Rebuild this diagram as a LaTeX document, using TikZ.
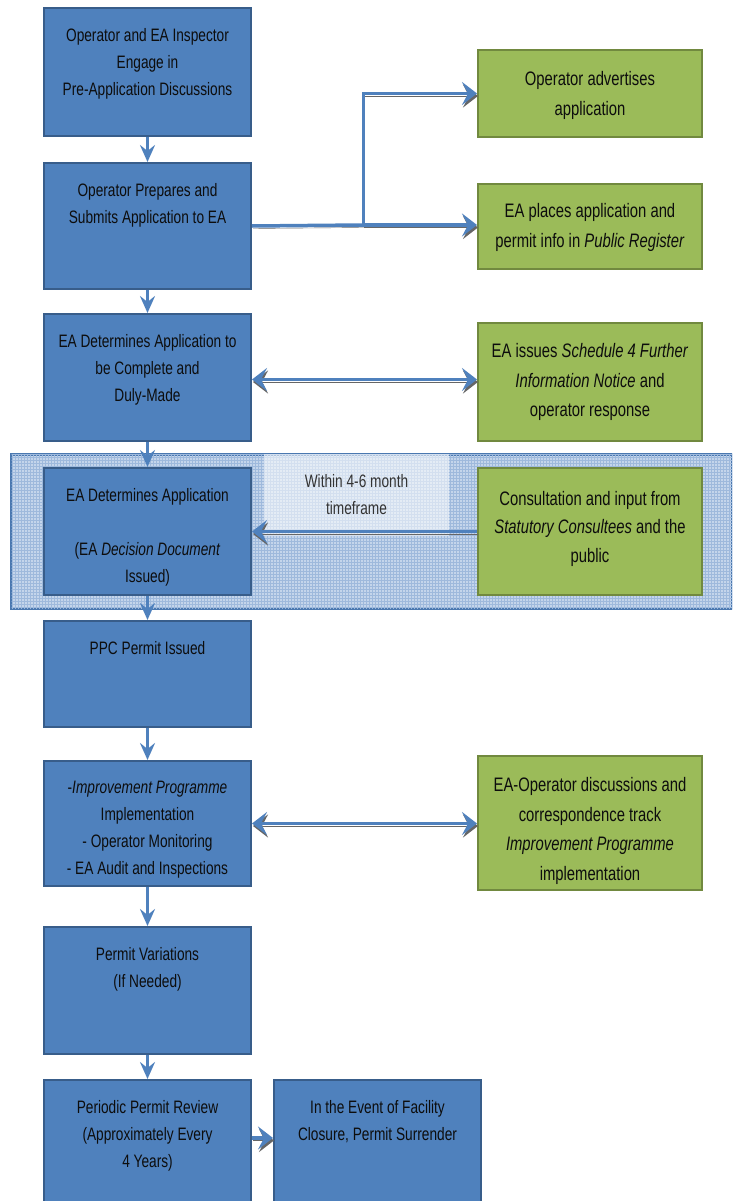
\documentclass[tikz,border=0pt]{standalone}
\usepackage{fontspec}
\setmainfont{Liberation Sans}[FakeStretch=0.76]
\usetikzlibrary{arrows.meta,patterns}
\definecolor{bfill}{HTML}{4F81BD}
\definecolor{bline}{HTML}{385D8A}
\definecolor{gfill}{HTML}{9BBB59}
\definecolor{gline}{HTML}{71893F}
\definecolor{arr}{HTML}{4F81BD}
\definecolor{bandfill}{HTML}{C4D5EB}
\definecolor{bandgrid}{HTML}{9EB9DC}
\definecolor{bandline}{HTML}{4A78B0}
\definecolor{txt}{HTML}{0D0D0D}
\tikzset{
  bfont/.style={font=\fontsize{18}{27}\selectfont},
  gfont/.style={font=\fontsize{19.5}{29.5}\selectfont},
  bbox/.style={draw=bline, line width=2pt, fill=bfill, anchor=north west,
    minimum width=207pt, inner sep=0pt},
  btext/.style={anchor=north, yshift=-21pt, align=center, inner sep=0pt, bfont, text=txt},
  gbox/.style={draw=gline, line width=2pt, fill=gfill, anchor=north west,
    minimum width=224pt, inner sep=0pt, align=center, gfont, text=txt},
  gtext/.style={anchor=center, align=center, inner sep=0pt, gfont, text=txt},
  shadowed/.style={preaction={draw=black!60, transform canvas={shift={(1pt,-2.5pt)}}}},
  varrow/.style={draw=arr, line width=3pt, -{Stealth[length=17pt,width=15pt,inset=6pt]}},
  hline/.style={draw=arr, line width=3.5pt, shadowed},
  harrow/.style={draw=arr, line width=3.5pt, shadowed, -{Stealth[length=15pt,width=23pt,inset=6pt]}},
  hdarrow/.style={draw=arr, line width=3.5pt, shadowed,
    {Stealth[length=15pt,width=23pt,inset=6pt]}-{Stealth[length=15pt,width=23pt,inset=6pt]}},
}
\begin{document}
\begin{tikzpicture}[x=1pt,y=-1pt]
\useasboundingbox (0,0) rectangle (732,1201);
\clip (0,0) rectangle (732,1201);
\fill[white] (0,0) rectangle (732,1201);

% highlighted band
\node[draw=bandline, line width=3pt, fill=bandfill,
      postaction={pattern=grid, pattern color=bandgrid},
      anchor=north west, minimum width=721pt, minimum height=154pt, inner sep=0pt]
      (band) at (10,453) {};
\node[fill=white, fill opacity=0.55, text opacity=1, text=black!80,
      minimum width=185pt, minimum height=82pt, align=center, bfont, inner sep=0pt]
      (tf) at (356.5,495) {Within 4-6 month\\timeframe};

% left column
\node[bbox, minimum height=128pt,
  label={[btext]north:{Operator and EA Inspector\\Engage in\\Pre-Application Discussions}}]
  (b1) at (43,7) {};
\node[bbox, minimum height=126pt,
  label={[btext]north:{Operator Prepares and\\Submits Application to EA}}]
  (b2) at (43,162) {};
\node[bbox, minimum height=127pt,
  label={[btext]north:{EA Determines Application to\\be Complete and\\Duly-Made}}]
  (b3) at (43,313) {};
\node[bbox, minimum height=127pt,
  label={[btext]north:{EA Determines Application\\~\\(EA \textit{Decision Document}\\Issued)}}]
  (b4) at (43,467) {};
\node[bbox, minimum height=106pt,
  label={[btext]north:{PPC Permit Issued}}]
  (b5) at (43,620) {};
\node[bbox, minimum height=125pt,
  label={[btext]north:{-\textit{Improvement Programme}\\Implementation\\- Operator Monitoring\\- EA Audit and Inspections}}]
  (b6) at (43,760) {};
\node[bbox, minimum height=127pt,
  label={[btext]north:{Permit Variations\\(If Needed)}}]
  (b7) at (43,926) {};
\node[bbox, minimum height=140pt,
  label={[btext]north:{Periodic Permit Review\\(Approximately Every\\4 Years)}}]
  (b8) at (43,1079) {};
\node[bbox, minimum height=140pt,
  label={[btext]north:{In the Event of Facility\\Closure, Permit Surrender}}]
  (b9) at (273,1079) {};

% right column
\node[gbox, minimum height=87pt,
  label={[gtext, yshift=-2pt]center:{Operator advertises\\application}}] (g1) at (477,49) {};
\node[gbox, minimum height=85pt,
  label={[gtext, yshift=-1pt]center:{EA places application and\\permit info in \textit{Public Register}}}] (g2) at (477,183) {};
\node[gbox, minimum height=118pt,
  label={[gtext]center:{EA issues \textit{Schedule 4 Further}\\\textit{Information Notice} and\\operator response}}] (g3) at (477,322) {};
\node[gbox, minimum height=127pt,
  label={[gtext, yshift=3pt, font=\fontsize{19.5}{28.5}\selectfont]center:{Consultation and input from\\\textit{Statutory Consultees} and the\\public}}] (g4) at (477,467) {};
\node[gbox, minimum height=134pt,
  label={[gtext, yshift=-8pt]center:{EA-Operator discussions and\\correspondence track\\\textit{Improvement Programme}\\implementation}}] (g5) at (477,755) {};

% vertical flow
\draw[varrow] (b1.south) -- (b2.north);
\draw[varrow] (b2.south) -- (b3.north);
\draw[varrow] (b3.south) -- (b4.north);
\draw[varrow] (b4.south) -- (b5.north);
\draw[varrow] (b5.south) -- (b6.north);
\draw[varrow] (b6.south) -- (b7.north);
\draw[varrow] (b7.south) -- (b8.north);

% side connectors
\coordinate (split) at (363,225);
\draw[hline] (b2.east) -- (split);
\draw[harrow, line width=3pt] (split) |- (g1.west);
\draw[harrow] (split) -- (split -| g2.west);
\draw[hdarrow] ([yshift=-2pt]b3.east) -- ([yshift=-2pt]b3.east -| g3.west);
\draw[harrow] (g4.west) -- (b4.east);
\draw[hdarrow] (b6.east) -- (b6.east -| g5.west);
\draw[harrow] ([yshift=-59pt]b8.north east) -- ([yshift=-59pt]b9.north west);
\end{tikzpicture}
\end{document}
